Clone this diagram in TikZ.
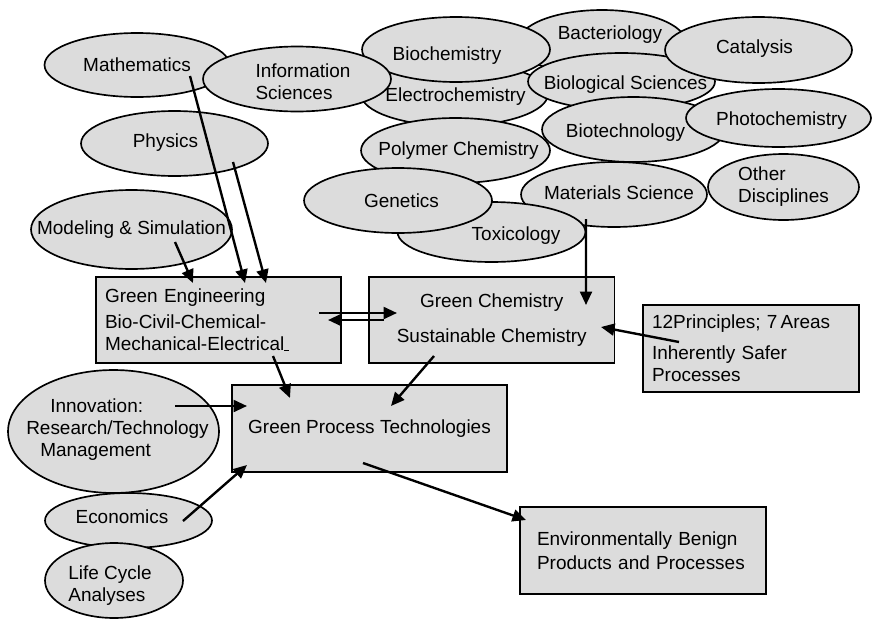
\documentclass[tikz,border=0pt]{standalone}
\usepackage{fontspec}
\setmainfont{Liberation Sans}
\usepackage{tikz}
\usetikzlibrary{shapes.geometric, arrows.meta}
\definecolor{bggray}{RGB}{220,220,220}

\begin{document}
\begin{tikzpicture}[
    x=0.02cm, y=-0.02cm,
    lbl/.style={font=\fontsize{10.8}{12.5}\selectfont, align=left, inner sep=0pt},
    oval/.style={ellipse, draw=black, fill=bggray, line width=0.95pt, inner sep=0pt},
    box/.style={rectangle, draw=black, fill=bggray, line width=0.95pt, minimum height=1.74cm, font=\fontsize{10.8}{12.5}\selectfont},
    arrow/.style={-{Triangle[length=2.7mm, width=2.4mm]}, line width=1.35pt}
]
\useasboundingbox (0,0) rectangle (872,619);

% disciplines, in stacking order
\node[oval, minimum width=3.7cm, minimum height=1.28cm, label={[lbl]center:Mathematics}] (math) at (137,65) {};
\node[oval, minimum width=3.74cm, minimum height=1.3cm, label={[lbl, shift={(-9,-1)}]center:Physics}] (phys) at (174.5,143.5) {};
\node[oval, minimum width=4.02cm, minimum height=1.58cm, label={[lbl]center:Modeling \& Simulation}] (model) at (131.5,229.5) {};
\node[oval, minimum width=3.74cm, minimum height=1.28cm, label={[lbl, shift={(1,3)}]center:Electrochemistry}] (electro) at (454.5,94) {};
\node[oval, minimum width=3.36cm, minimum height=1.32cm, label={[lbl, shift={(8,-8)}]center:Bacteriology}] (bact) at (602,43) {};
\node[oval, minimum width=3.76cm, minimum height=1.3cm, label={[lbl, shift={(-9,6)}]center:Biochemistry}] (biochem) at (456,49.5) {};
\node[oval, minimum width=3.76cm, minimum height=1.3cm, label={[lbl, shift={(6,3)}]center:Information\\Sciences}] (info) at (297,79) {};
\node[oval, minimum width=3.74cm, minimum height=1.14cm, label={[lbl, shift={(4,3)}]center:Biological Sciences}] (biosci) at (621.5,81.5) {};
\node[oval, minimum width=3.74cm, minimum height=1.32cm, label={[lbl, shift={(-4,-1)}]center:Catalysis}] (cata) at (758.5,50) {};
\node[oval, minimum width=3.66cm, minimum height=1.3cm, label={[lbl, shift={(-8,3)}]center:Biotechnology}] (biotech) at (633.5,129.5) {};
\node[oval, minimum width=3.7cm, minimum height=1.16cm, label={[lbl, shift={(3,3)}]center:Photochemistry}] (photo) at (778.5,118) {};
\node[oval, minimum width=3.78cm, minimum height=1.3cm, label={[lbl, shift={(3,0)}]center:Polymer Chemistry}] (poly) at (455.5,150.5) {};
\node[oval, minimum width=3.72cm, minimum height=1.3cm, label={[lbl, shift={(5,-2)}]center:Materials Science}] (mater) at (614,194.5) {};
\node[oval, minimum width=3.02cm, minimum height=1.32cm, label={[lbl]center:Other\\Disciplines}] (other) at (783.5,187) {};
\node[oval, minimum width=3.76cm, minimum height=1.2cm, label={[lbl, shift={(24.5,4)}]center:Toxicology}] (tox) at (491.5,232) {};
\node[oval, minimum width=3.76cm, minimum height=1.3cm, label={[lbl, shift={(3.5,0)}]center:Genetics}] (gen) at (398,200.5) {};
\node[oval, minimum width=4.22cm, minimum height=2.46cm, label={[lbl, shift={(4,-1.5)}]center:\hspace*{0.48cm}Innovation:\\Research/Technology\\\hspace*{0.28cm}Management}] (innov) at (113.5,431.5) {};
\node[oval, minimum width=3.34cm, minimum height=1.1cm, label={[lbl, shift={(-6.5,-4)}]center:Economics}] (econ) at (128.5,520.5) {};
\node[oval, minimum width=2.76cm, minimum height=1.5cm, label={[lbl, shift={(-4,5)}]center:Life Cycle\\Analyses}] (life) at (114,580.5) {};

% boxes
\node[box, minimum width=4.9cm, minimum height=1.72cm, text width=4.54cm, inner xsep=0.18cm, align=left] (eng) at (218.5,320) {Green Engineering\\[2.5pt]Bio-Civil-Chemical-\\Mechanical-Electrical\rule{2.5pt}{0.7pt}};
\node[box, minimum width=4.91cm, minimum height=1.72cm, align=center] (chem) at (491.75,320) {Green Chemistry\\[7pt]Sustainable Chemistry};
\node[box, minimum width=4.32cm, text width=3.96cm, inner xsep=0.18cm, align=left] (princ) at (751,348.5) {12Principles; 7\,Areas\\[5pt]Inherently Safer\\Processes};
\node[box, minimum width=5.5cm, align=center] (proc) at (369.5,428.5) {Green Process Technologies};
\node[box, minimum width=4.92cm, text width=4.24cm, inner xsep=0.34cm, align=left] (benign) at (643,550.5) {Environmentally Benign\\[1pt]Products and Processes};

% arrows
\draw[arrow] ([shift={(53,11)}]math.center) -- ([shift={(26.5,-37)}]eng.center);
\draw[arrow] ([shift={(58.5,18.5)}]phys.center) -- ([shift={(47.5,-37)}]eng.center);
\draw[arrow] ([shift={(43.5,12.5)}]model.center) -- ([shift={(-25.5,-37)}]eng.center);
\draw[arrow] ([shift={(-28,24.5)}]mater.center) -- ([shift={(94.25,-15)}]chem.center);
\draw[arrow] ([shift={(100.5,-7)}]eng.center) -- ([shift={(-94.75,-7)}]chem.center);
\draw[arrow] ([shift={(-107.75,0)}]chem.center) -- ([shift={(109.5,0)}]eng.center);
\draw[arrow] ([shift={(-72,-6.5)}]princ.center) -- ([shift={(109.25,7)}]chem.center);
\draw[arrow] ([shift={(54.5,36)}]eng.center) -- ([shift={(-79.5,-30.5)}]proc.center);
\draw[arrow] ([shift={(-57.75,36)}]chem.center) -- ([shift={(21.5,-22.5)}]proc.center);
\draw[arrow] ([shift={(61.5,-25.5)}]innov.center) -- ([shift={(-122.5,-22.5)}]proc.center);
\draw[arrow] ([shift={(54.5,0.5)}]econ.center) -- ([shift={(-122.5,36.5)}]proc.center);
\draw[arrow] ([shift={(-6.5,34.5)}]proc.center) -- ([shift={(-117,-30.5)}]benign.center);

\end{tikzpicture}
\end{document}
